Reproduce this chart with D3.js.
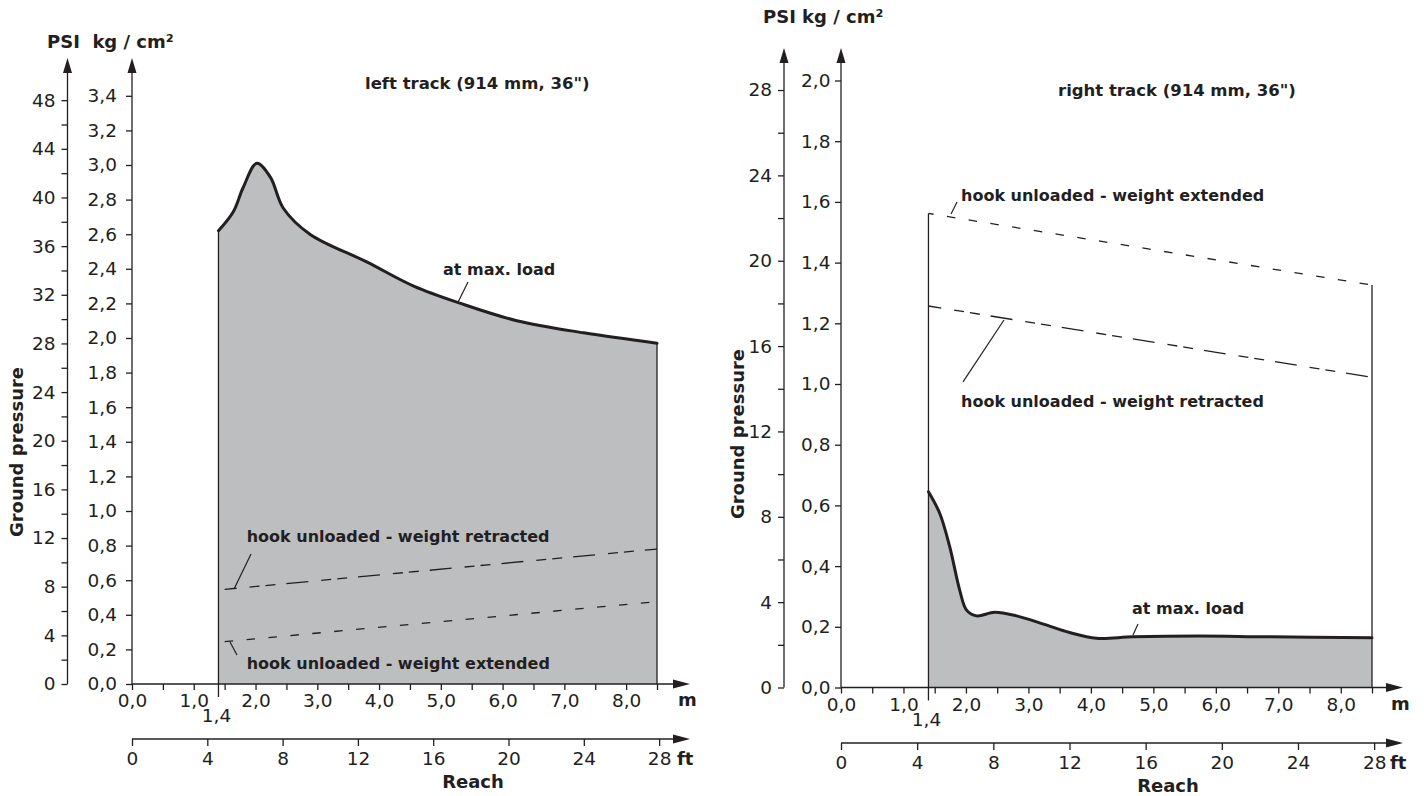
<!DOCTYPE html>
<html><head><meta charset="utf-8">
<script src="https://cdn.jsdelivr.net/npm/d3@7"></script>
<style>body{margin:0;background:#fff}svg{display:block}</style>
</head><body>
<svg id="c" width="1424" height="796"></svg>
<script>
// ---------- data ----------
const KG_TO_PSI = 14.2233;
const M_PER_FT = 0.3048;

const leftKgTicks  = [0,0.2,0.4,0.6,0.8,1.0,1.2,1.4,1.6,1.8,2.0,2.2,2.4,2.6,2.8,3.0,3.2,3.4];
const leftPsiTicks = [0,2,4,6,8,10,12,14,16,18,20,22,24,26,28,30,32,34,36,38,40,42,44,46,48];
const rightKgTicks  = [0,0.2,0.4,0.6,0.8,1.0,1.2,1.4,1.6,1.8,2.0];
const rightPsiTicks = [0,2,4,6,8,10,12,14,16,18,20,22,24,26,28];
const mTicks  = [0,0.5,1,1.5,2,2.5,3,3.5,4,4.5,5,5.5,6,6.5,7,7.5,8,8.5];
const mLabels = [0,1,2,3,4,5,6,7,8];
const ftTicks = [0,4,8,12,16,20,24,28];

// left track (kg/cm², reach in m)
const leftReach   = [1.4, 1.64, 1.80, 2.02, 2.24, 2.45, 2.88, 3.80, 4.56, 5.32, 6.23, 7.31, 8.5];
const leftMaxLoad = [2.62, 2.73, 2.87, 3.01, 2.93, 2.75, 2.60, 2.44, 2.30, 2.20, 2.10, 2.03, 1.97];
const leftRetractedReach = [1.5, 8.5];
const leftRetracted      = [0.547, 0.78];
const leftExtendedReach  = [1.5, 8.5];
const leftExtended       = [0.245, 0.476];

// right track
const rightReach   = [1.4, 1.58, 1.74, 1.90, 2.01, 2.17, 2.46, 2.81, 3.24, 3.66, 4.09, 4.68, 5.74, 6.81, 8.5];
const rightMaxLoad = [0.645, 0.574, 0.464, 0.321, 0.255, 0.236, 0.248, 0.236, 0.209, 0.181, 0.162, 0.167, 0.170, 0.167, 0.164];
const rightRetractedReach = [1.4, 8.5];
const rightRetracted      = [1.257, 1.022];
const rightExtendedReach  = [1.4, 8.5];
const rightExtended       = [1.562, 1.326];

// ---------- drawing ----------
const svg = d3.select("#c");
const INK = "#231f20";
const FILL = "#bcbec0";
const FONT = "'DejaVu Sans', 'Liberation Sans', Arial, sans-serif";
const fmt = v => d3.format(".1f")(v).replace(".", ",");

function arrowUp(g, x, tipY) {
  g.append("path").attr("d", `M${x},${tipY} L${x-4.5},${tipY+15} L${x+4.5},${tipY+15} Z`).attr("fill", INK);
}
function arrowRight(g, tipX, y) {
  g.append("path").attr("d", `M${tipX},${y} L${tipX-17},${y-4.5} L${tipX-17},${y+4.5} Z`).attr("fill", INK);
}

function drawChart(cfg, d) {
  const g = svg.append("g").attr("font-family", FONT).attr("fill", INK);
  const x = d3.scaleLinear().domain([0, 8.5]).range([cfg.xLeft, cfg.xRight]);
  const y = d3.scaleLinear().domain([0, cfg.kgMax]).range([cfg.yBase, cfg.yTop]);
  const yPsi = d3.scaleLinear().domain([0, cfg.kgMax * KG_TO_PSI]).range([cfg.yBase, cfg.yTop]);
  const xFt = d3.scaleLinear().domain([0, 8.5 / M_PER_FT]).range([cfg.xLeft, cfg.xRight]);

  const pts = d.reach.map((v, i) => [v, d.load[i]]);
  const curve = d3.curveCatmullRom.alpha(0.5);
  g.append("path")
    .attr("d", d3.area().x(p => x(p[0])).y0(y(0)).y1(p => y(p[1])).curve(curve)(pts))
    .attr("fill", FILL);

  // vertical edges
  const first = d.reach[0], last = d.reach[d.reach.length - 1];
  const topL = Math.max(d.load[0], d.extStartEdge);
  const topR = Math.max(d.load[d.load.length - 1], d.extEndEdge);
  g.append("line").attr("x1", x(first)).attr("x2", x(first))
    .attr("y1", y(0) + 13).attr("y2", y(topL)).attr("stroke", INK).attr("stroke-width", 1.3);
  g.append("line").attr("x1", x(last)).attr("x2", x(last))
    .attr("y1", y(0)).attr("y2", y(topR)).attr("stroke", INK).attr("stroke-width", 1.3);

  // dashed series
  const lineGen = d3.line().x(p => x(p[0])).y(p => y(p[1]));
  g.append("path").attr("d", lineGen(d.retReach.map((v, i) => [v, d.ret[i]])))
    .attr("fill", "none").attr("stroke", INK).attr("stroke-width", 1.3)
    .attr("stroke-dasharray", "22,13,10,6,10,11").attr("stroke-dashoffset", cfg.retOffset);
  g.append("path").attr("d", lineGen(d.extReach.map((v, i) => [v, d.ext[i]])))
    .attr("fill", "none").attr("stroke", INK).attr("stroke-width", 1.3)
    .attr("stroke-dasharray", "8.5,13.5").attr("stroke-dashoffset", cfg.extOffset);

  // max load line
  g.append("path").attr("d", d3.line().x(p => x(p[0])).y(p => y(p[1])).curve(curve)(pts))
    .attr("fill", "none").attr("stroke", INK).attr("stroke-width", 3)
    .attr("stroke-linejoin", "round").attr("stroke-linecap", "round");

  // axes
  const styleAxis = sel => {
    sel.select(".domain").remove();
    sel.selectAll("line").attr("stroke", INK).attr("stroke-width", 1.3);
    sel.selectAll("text").attr("fill", INK).attr("font-family", FONT).attr("font-size", 18.5);
  };
  // kg axis
  g.append("g").attr("transform", `translate(${cfg.xLeft},0)`)
    .call(d3.axisLeft(y).tickValues(d.kgTicks).tickSize(6).tickPadding(cfg.kgPad).tickFormat(fmt))
    .call(styleAxis);
  g.append("line").attr("x1", cfg.xLeft).attr("x2", cfg.xLeft).attr("y1", cfg.yBase).attr("y2", cfg.arrowTop + 5)
    .attr("stroke", INK).attr("stroke-width", 1.3);
  arrowUp(g, cfg.xLeft, cfg.arrowTop);
  // psi axis
  g.append("g").attr("transform", `translate(${cfg.psiX},0)`)
    .call(d3.axisLeft(yPsi).tickValues(d.psiTicks).tickSize(6).tickPadding(6)
      .tickFormat(v => v % 4 === 0 ? String(v) : ""))
    .call(styleAxis);
  g.append("line").attr("x1", cfg.psiX).attr("x2", cfg.psiX).attr("y1", cfg.yBase).attr("y2", cfg.arrowTop + 5)
    .attr("stroke", INK).attr("stroke-width", 1.3);
  arrowUp(g, cfg.psiX, cfg.arrowTop);

  // m axis
  g.append("g").attr("transform", `translate(0,${cfg.yBase})`)
    .call(d3.axisBottom(x).tickValues(mTicks).tickSize(6).tickPadding(4)
      .tickFormat(v => mLabels.includes(v) ? fmt(v) : ""))
    .call(styleAxis);
  g.append("line").attr("x1", cfg.xLeft).attr("x2", cfg.arrowX - 5).attr("y1", cfg.yBase).attr("y2", cfg.yBase)
    .attr("stroke", INK).attr("stroke-width", 1.3);
  arrowRight(g, cfg.arrowX, cfg.yBase);
  g.append("text").attr("x", x(1.4) - 2).attr("y", cfg.yBase + 38).attr("text-anchor", "middle")
    .attr("font-size", 18.5).text(fmt(1.4));
  g.append("text").attr("x", cfg.arrowX - 12).attr("y", cfg.yBase + 22).attr("font-size", 18)
    .attr("font-weight", "bold").text("m");

  // ft axis
  g.append("g").attr("transform", `translate(0,${cfg.ftY})`)
    .call(d3.axisBottom(xFt).tickValues(ftTicks).tickSize(7).tickPadding(6).tickFormat(v => String(v)))
    .call(styleAxis);
  g.append("line").attr("x1", cfg.xLeft).attr("x2", cfg.arrowX - 5).attr("y1", cfg.ftY).attr("y2", cfg.ftY)
    .attr("stroke", INK).attr("stroke-width", 1.3);
  arrowRight(g, cfg.arrowX, cfg.ftY);
  g.append("text").attr("x", cfg.arrowX - 13).attr("y", cfg.ftY + 26).attr("font-size", 18)
    .attr("font-weight", "bold").text("ft");
  g.append("text").attr("x", cfg.reachX).attr("y", cfg.ftY + 49).attr("text-anchor", "middle")
    .attr("font-size", 18).attr("font-weight", "bold").text("Reach");

  // titles / units
  g.append("text").attr("transform", `translate(${cfg.gpX},${cfg.gpY}) rotate(-90)`)
    .attr("text-anchor", "middle").attr("font-size", 18).attr("font-weight", "bold").text("Ground pressure");
  g.append("text").attr("x", cfg.unitX).attr("y", cfg.unitY).attr("font-size", 18).attr("font-weight", "bold")
    .attr("xml:space", "preserve").text(cfg.unitText);
  g.append("text").attr("x", cfg.titleX).attr("y", cfg.titleY).attr("font-size", 16.5).attr("font-weight", "bold")
    .text(cfg.title);

  // annotations
  d.notes.forEach(n => {
    g.append("line").attr("x1", x(n.a[0])).attr("y1", y(n.a[1])).attr("x2", x(n.b[0])).attr("y2", y(n.b[1]))
      .attr("stroke", INK).attr("stroke-width", 1.2);
    g.append("text").attr("x", x(n.t[0])).attr("y", y(n.t[1])).attr("font-size", 16)
      .attr("font-weight", "bold").text(n.text);
  });
}

drawChart({
  xLeft: 132, xRight: 657, yBase: 684, yTop: 95.8, kgMax: 3.4, psiX: 67.5, arrowTop: 58,
  arrowX: 690, ftY: 739, kgPad: 9, reachX: 473, gpX: 23, gpY: 452,
  unitX: 47, unitY: 48, unitText: "PSI  kg / cm²", titleX: 365, titleY: 89,
  title: "left track (914 mm, 36\")", retOffset: 10, extOffset: 0
}, {
  kgTicks: leftKgTicks, psiTicks: leftPsiTicks,
  reach: leftReach, load: leftMaxLoad,
  retReach: leftRetractedReach, ret: leftRetracted,
  extReach: leftExtendedReach, ext: leftExtended,
  extStartEdge: 0, extEndEdge: 0,
  notes: [
    {text: "at max. load", a: [5.44, 2.324], b: [5.28, 2.208], t: [5.035, 2.364]},
    {text: "hook unloaded - weight retracted", a: [1.927, 0.751], b: [1.652, 0.549], t: [1.857, 0.822]},
    {text: "hook unloaded - weight extended", a: [1.587, 0.243], b: [1.70, 0.168], t: [1.857, 0.0867]}
  ]
});

drawChart({
  xLeft: 841, xRight: 1372, yBase: 687.5, yTop: 80.5, kgMax: 2.0, psiX: 784, arrowTop: 48,
  arrowX: 1403, ftY: 743, kgPad: 4.5, reachX: 1168, gpX: 744, gpY: 434,
  unitX: 763, unitY: 23, unitText: "PSI kg / cm²", titleX: 1058, titleY: 96,
  title: "right track (914 mm, 36\")", retOffset: 9, extOffset: 3.3
}, {
  kgTicks: rightKgTicks, psiTicks: rightPsiTicks,
  reach: rightReach, load: rightMaxLoad,
  retReach: rightRetractedReach, ret: rightRetracted,
  extReach: rightExtendedReach, ext: rightExtended,
  extStartEdge: rightExtended[0], extEndEdge: rightExtended[1],
  notes: [
    {text: "at max. load", a: [4.754, 0.209], b: [4.674, 0.173], t: [4.658, 0.242]},
    {text: "hook unloaded - weight extended", a: [1.761, 1.560], b: [1.857, 1.600], t: [1.921, 1.604]},
    {text: "hook unloaded - weight retracted", a: [2.609, 1.211], b: [1.953, 1.007], t: [1.921, 0.925]}
  ]
});
</script>
</body></html>
